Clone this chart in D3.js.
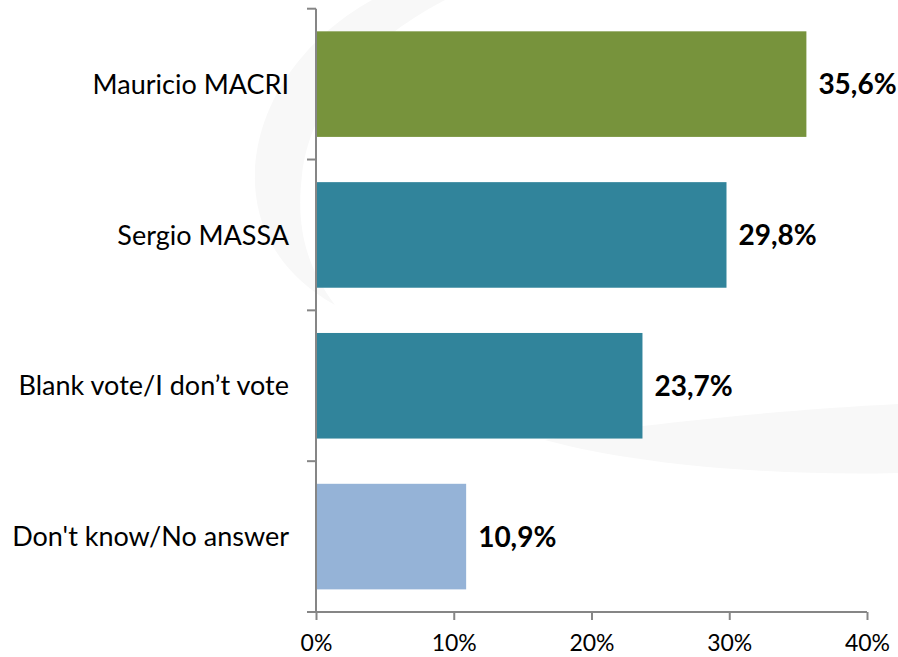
<!DOCTYPE html>
<html lang="en">
<head>
  <meta charset="UTF-8">
  <style>
    body {
      margin: 0;
      overflow: hidden;
      background: #fff;
    }

    svg {
      display: block;
    }

    .cat-label {
      font-family: Lato, "Open Sans", sans-serif;
      font-size: 27px;
      fill: #000;
    }

    .value-label {
      font-family: Lato, "Open Sans", sans-serif;
      font-size: 28px;
      font-weight: bold;
      fill: #000;
    }

    .axis line, .axis path {
      stroke: #868686;
      stroke-width: 2;
    }

    .axis text {
      font-family: Lato, "Open Sans", sans-serif;
      font-size: 23px;
      fill: #000;
    }
  </style>
  <script src="https://d3js.org/d3.v7.min.js"></script>
</head>
<body>

<svg id="chart"></svg>

<script>
  // data
  const categories = ["Mauricio MACRI", "Sergio MASSA", "Blank vote/I don\u2019t vote", "Don't know/No answer"];
  const values = [35.6, 29.8, 23.7, 10.9];
  const barColors = ["#77933c", "#31849b", "#31849b", "#95b3d7"];
  const xTicks = [0, 10, 20, 30, 40];

  const width = 898, height = 657;
  const x0 = 316, x1 = 867, yTop = 8.7, yBottom = 612;

  const svg = d3.select("#chart")
    .attr("width", width)
    .attr("height", height);

  // faint watermark behind the chart
  const mark = svg.append("g").attr("fill", "#f8f8f8");
  mark.append("path")
    .attr("d", "M372,0 C300,40 252,110 255,185 C258,240 290,280 335,305 C305,265 296,225 302,175 C310,105 360,45 445,0 Z");
  mark.append("path")
    .attr("d", "M545,440 C640,424 780,410 898,404 L898,473 C780,476 640,466 545,440 Z");

  const x = d3.scaleLinear()
    .domain([0, 40])
    .range([x0, x1]);

  const y = d3.scaleBand()
    .domain(categories)
    .range([yTop, yBottom])
    .paddingInner(0.3)
    .paddingOuter(0.15);

  // bars
  svg.selectAll(".bar")
    .data(categories)
    .enter()
    .append("rect")
    .attr("class", "bar")
    .attr("x", x(0))
    .attr("y", d => y(d))
    .attr("width", (d, i) => x(values[i]) - x(0))
    .attr("height", y.bandwidth())
    .attr("fill", (d, i) => barColors[i]);

  // value labels
  svg.selectAll(".value-label")
    .data(categories)
    .enter()
    .append("text")
    .attr("class", "value-label")
    .attr("x", (d, i) => x(values[i]) + 12)
    .attr("y", d => y(d) + y.bandwidth() / 2)
    .attr("dy", "0.36em")
    .text((d, i) => d3.format(".1f")(values[i]).replace(".", ",") + "%");

  // category labels
  svg.selectAll(".cat-label")
    .data(categories)
    .enter()
    .append("text")
    .attr("class", "cat-label")
    .attr("x", x0 - 27)
    .attr("y", d => y(d) + y.bandwidth() / 2)
    .attr("dy", "0.36em")
    .attr("text-anchor", "end")
    .text(d => d);

  // y axis: line with ticks on the band boundaries
  const yAxis = svg.append("g").attr("class", "axis");
  const bounds = d3.range(categories.length + 1).map(i => yTop + i * y.step());
  yAxis.append("line")
    .attr("x1", x0).attr("x2", x0)
    .attr("y1", yTop).attr("y2", yBottom);
  yAxis.selectAll(".ytick")
    .data(bounds)
    .enter()
    .append("line")
    .attr("class", "ytick")
    .attr("x1", x0 - 9).attr("x2", x0)
    .attr("y1", d => d).attr("y2", d => d);

  // x axis
  const xAxis = svg.append("g")
    .attr("class", "axis")
    .attr("transform", `translate(0,${yBottom})`)
    .call(d3.axisBottom(x)
      .tickValues(xTicks)
      .tickSize(8)
      .tickSizeOuter(0)
      .tickFormat(d => d + "%"));

  xAxis.select(".domain").attr("d", `M${x0 - 9},0H${x1}`);
  xAxis.selectAll(".tick text")
    .attr("y", 31)
    .attr("dy", "0.36em");
</script>

</body>
</html>
